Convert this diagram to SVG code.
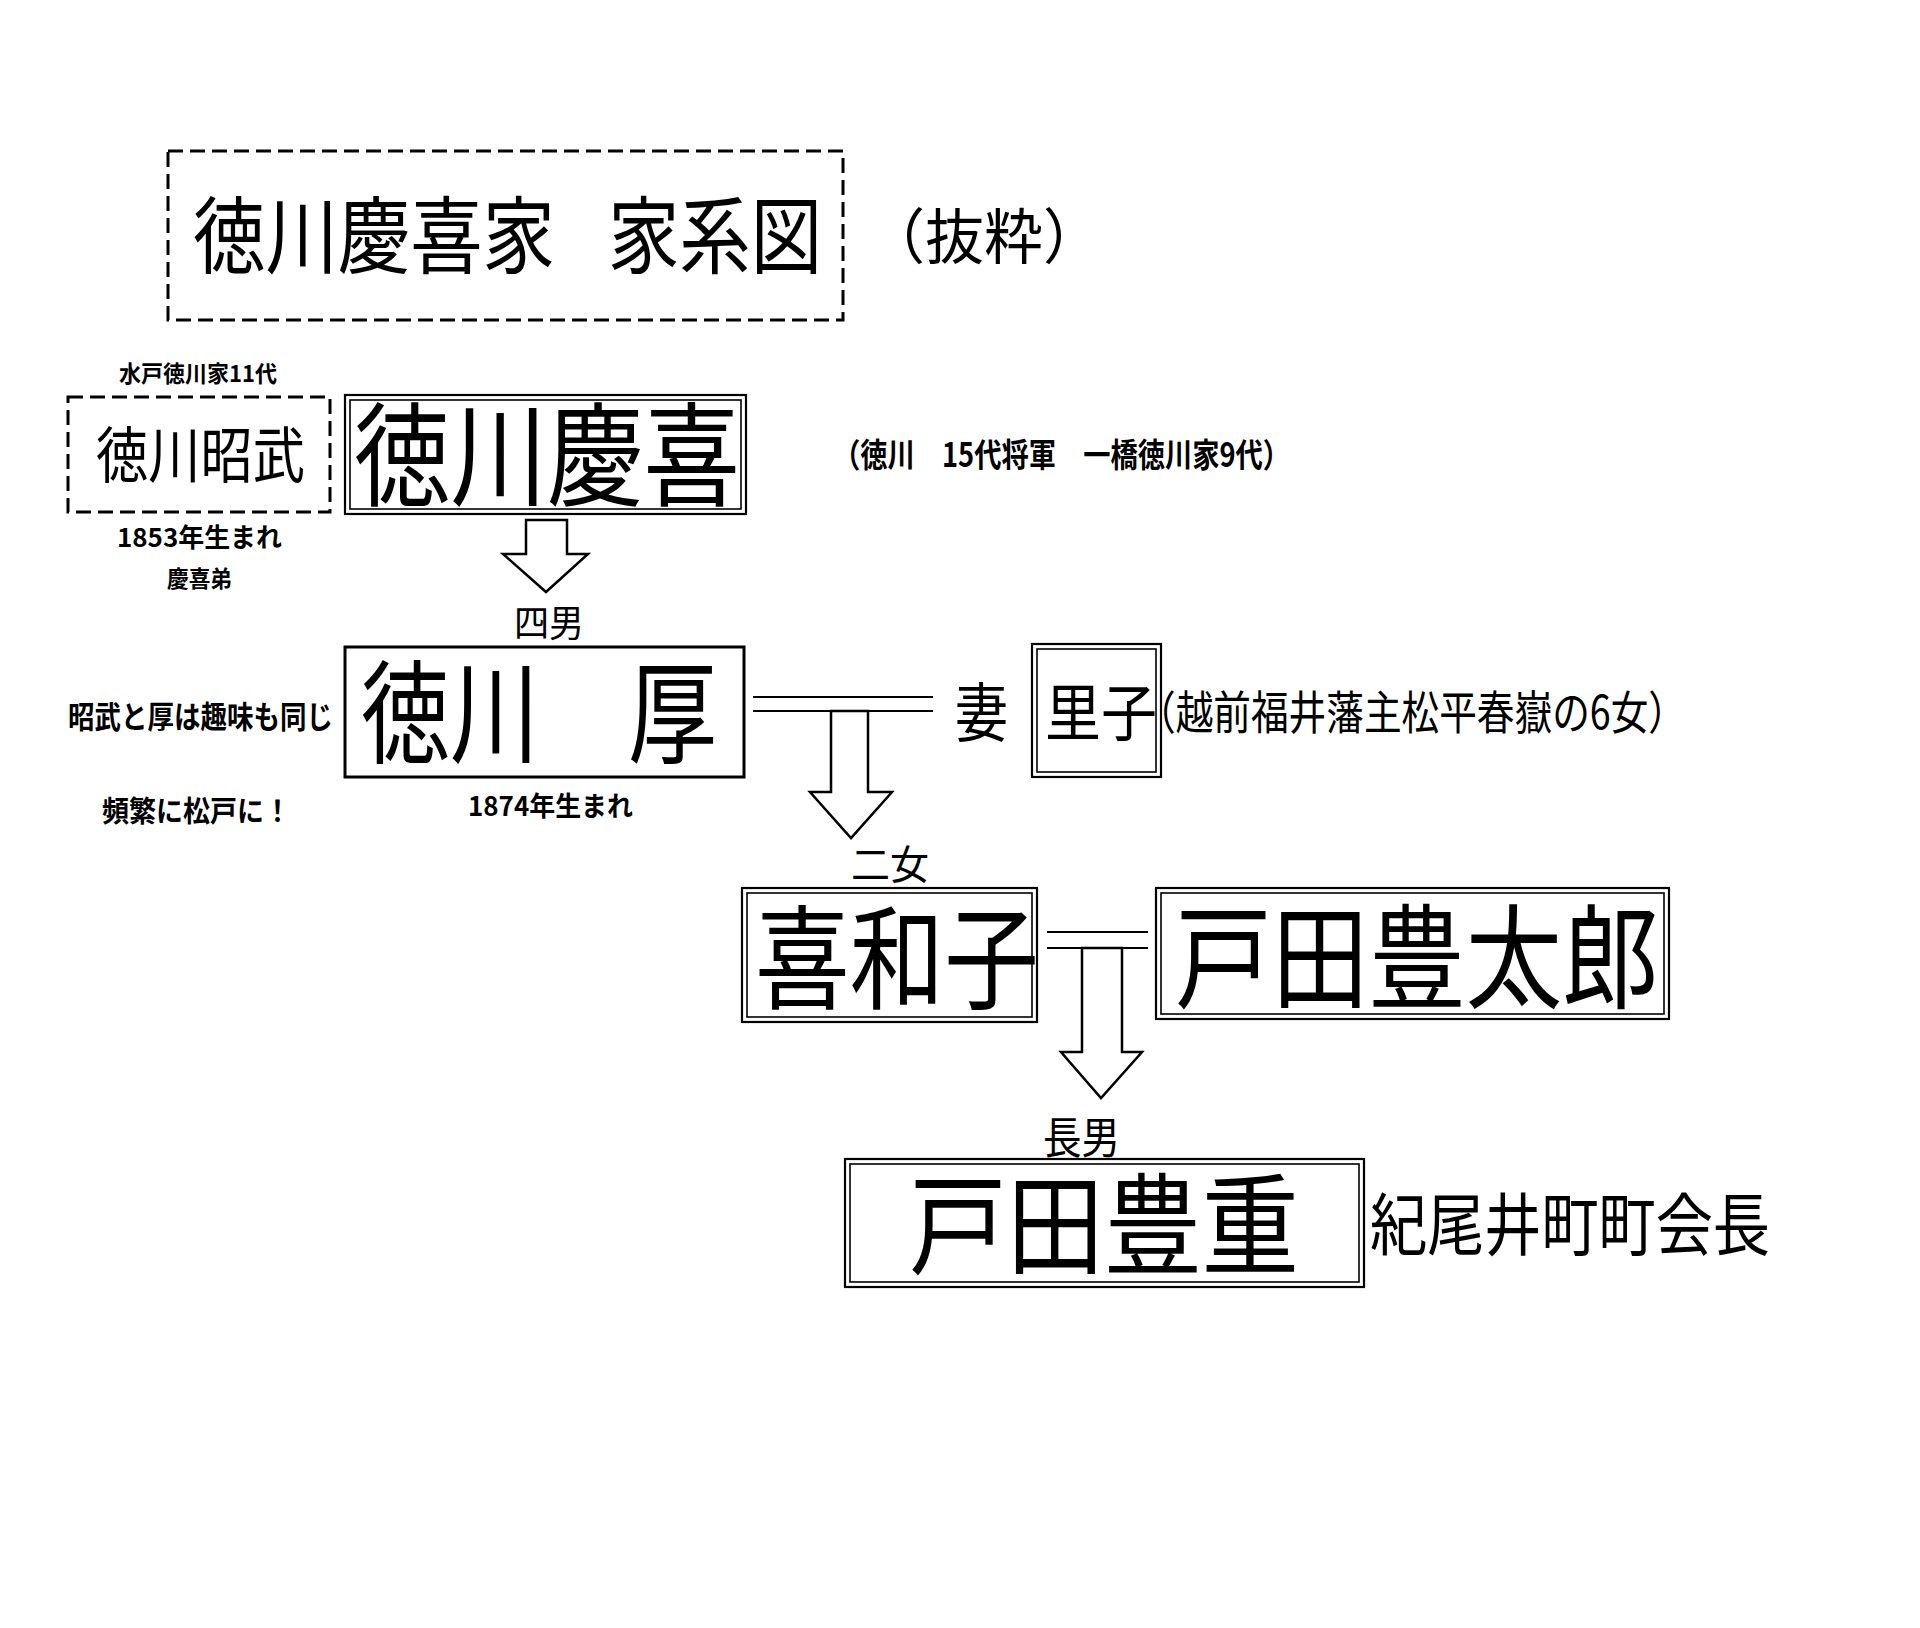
<svg xmlns="http://www.w3.org/2000/svg" width="1920" height="1628" viewBox="0 0 1920 1628">
<style>
.t{font-family:"Noto Sans CJK JP","Noto Sans CJK SC",sans-serif;fill:#000}
.b{font-weight:bold}
.dash{fill:none;stroke:#000;stroke-width:3;stroke-dasharray:15 7}
.o{fill:none;stroke:#000;stroke-width:2.2}
.i{fill:none;stroke:#000;stroke-width:1.6}
.s{fill:none;stroke:#000;stroke-width:3}
.ln{stroke:#000;stroke-width:2;fill:none}
.ar{fill:#fff;stroke:#000;stroke-width:2.5;stroke-linejoin:miter}
</style>
<rect width="1920" height="1628" fill="#fff"/>

<g id="title">
<rect class="dash" x="168" y="151" width="675" height="169"/>
<text class="t" x="193" y="267" font-size="84" textLength="362" lengthAdjust="spacingAndGlyphs">徳川慶喜家</text>
<text class="t" x="608" y="267" font-size="84" textLength="214" lengthAdjust="spacingAndGlyphs">家系図</text>
</g>
<g id="title-note">
<text class="t" x="866" y="259" font-size="60" textLength="236" lengthAdjust="spacingAndGlyphs">（抜粋）</text>
</g>

<g id="akitake">
<text class="t b" x="119" y="382" font-size="23" textLength="158" lengthAdjust="spacingAndGlyphs">水戸徳川家11代</text>
<rect class="dash" x="68" y="397" width="262" height="115"/>
<text class="t" x="96" y="478" font-size="61" textLength="209" lengthAdjust="spacingAndGlyphs">徳川昭武</text>
<text class="t b" x="117" y="547" font-size="26" textLength="165" lengthAdjust="spacingAndGlyphs">1853年生まれ</text>
<text class="t b" x="167" y="587" font-size="23" textLength="65" lengthAdjust="spacingAndGlyphs">慶喜弟</text>
</g>

<g id="yoshinobu">
<rect class="o" x="345" y="395" width="401" height="119"/>
<rect class="i" x="350" y="400" width="391" height="109"/>
<text class="t" x="354" y="497" font-size="113" textLength="386" lengthAdjust="spacingAndGlyphs">徳川慶喜</text>
<text class="t b" x="833" y="467" font-size="33" textLength="457" lengthAdjust="spacingAndGlyphs">（徳川　15代将軍　一橋徳川家9代）</text>
</g>

<g id="atsushi">
<text class="t" x="514" y="637" font-size="37" textLength="70" lengthAdjust="spacingAndGlyphs">四男</text>
<rect class="s" x="345" y="647" width="399" height="130"/>
<text class="t" x="361" y="755" font-size="112" textLength="356" lengthAdjust="spacingAndGlyphs">徳川　厚</text>
<text class="t b" x="68" y="728" font-size="31" textLength="265" lengthAdjust="spacingAndGlyphs">昭武と厚は趣味も同じ</text>
<text class="t b" x="102" y="822" font-size="29" textLength="189" lengthAdjust="spacingAndGlyphs">頻繁に松戸に！</text>
<text class="t b" x="468" y="816" font-size="27" textLength="165" lengthAdjust="spacingAndGlyphs">1874年生まれ</text>
</g>

<g id="satoko">
<text class="t" x="955" y="736" font-size="64" textLength="53" lengthAdjust="spacingAndGlyphs">妻</text>
<rect class="o" x="1032" y="644" width="129" height="133"/>
<rect class="i" x="1037" y="649" width="119" height="123"/>
<text class="t" x="1045" y="736" font-size="62" textLength="112" lengthAdjust="spacingAndGlyphs">里子</text>
<text class="t" x="1138" y="729" font-size="46" textLength="548" lengthAdjust="spacingAndGlyphs">（越前福井藩主松平春嶽の6女）</text>
</g>

<g id="kazuko">
<text class="t" x="851" y="879" font-size="40" textLength="78" lengthAdjust="spacingAndGlyphs">二女</text>
<rect class="o" x="742" y="888" width="295" height="134"/>
<rect class="i" x="747" y="893" width="285" height="124"/>
<text class="t" x="755" y="1000" font-size="113" textLength="284" lengthAdjust="spacingAndGlyphs">喜和子</text>
</g>

<g id="toyotaro">
<rect class="o" x="1156" y="888" width="513" height="131"/>
<rect class="i" x="1161" y="893" width="503" height="121"/>
<text class="t" x="1175" y="999" font-size="113" textLength="484" lengthAdjust="spacingAndGlyphs">戸田豊太郎</text>
</g>

<g id="toyoshige">
<text class="t" x="1043" y="1154" font-size="44" textLength="77" lengthAdjust="spacingAndGlyphs">長男</text>
<rect class="o" x="845" y="1159" width="519" height="128"/>
<rect class="i" x="850" y="1164" width="509" height="118"/>
<text class="t" x="909" y="1266" font-size="110" textLength="390" lengthAdjust="spacingAndGlyphs">戸田豊重</text>
<text class="t" x="1370" y="1250" font-size="68" textLength="400" lengthAdjust="spacingAndGlyphs">紀尾井町町会長</text>
</g>

<g id="connectors">
<polygon class="ar" points="526,520 567,520 567,554 588,554 546,592 503,554 526,554"/>
<line class="ln" x1="753" y1="697" x2="933" y2="697"/>
<line class="ln" x1="753" y1="711" x2="933" y2="711"/>
<polygon class="ar" points="831,711 868,711 868,792 892,792 851,838 810,792 831,792"/>
<line class="ln" x1="1047" y1="932" x2="1148" y2="932"/>
<line class="ln" x1="1047" y1="948" x2="1148" y2="948"/>
<polygon class="ar" points="1082,948 1122,948 1122,1052 1142,1052 1101,1098 1061,1052 1082,1052"/>
</g>
</svg>
